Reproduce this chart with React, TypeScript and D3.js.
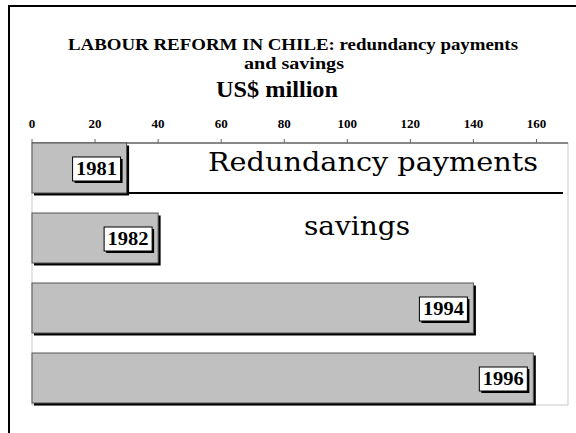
import React from "react";
import * as d3 from "d3";

const years = ["1981", "1982", "1994", "1996"];
const values = [30, 40, 140, 159];
const tickValues = [0, 20, 40, 60, 80, 100, 120, 140, 160];
const titleLines = ["LABOUR REFORM IN CHILE: redundancy payments", "and savings"];
const unitLabel = "US$ million";
const legendTexts = ["Redundancy payments", "savings"];

const W = 576;
const H = 433;

export default function App() {
  const x = d3.scaleLinear().domain([0, 170]).range([32, 568]);
  const y = d3.scaleBand<string>().domain(years).range([143, 403]).paddingInner(0.286).paddingOuter(0);
  const bw = y.bandwidth();
  const serifBold = "'Liberation Serif', 'Times New Roman', serif";
  return (
    <svg width={W} height={H} style={{ position: "absolute", left: 0, top: 0, background: "#fff" }}>
      <rect x={0} y={0} width={W} height={H} fill="#fff" />
      {/* outer frame */}
      <line x1={9} y1={6} x2={W} y2={6} stroke="#000" strokeWidth={2} />
      <line x1={9} y1={5} x2={9} y2={H} stroke="#000" strokeWidth={2} />

      {/* titles */}
      <text x={293} y={50} textAnchor="middle" fontFamily={serifBold} fontWeight="bold" fontSize={17.5} textLength={450} lengthAdjust="spacingAndGlyphs">{titleLines[0]}</text>
      <text x={294} y={69} textAnchor="middle" fontFamily={serifBold} fontWeight="bold" fontSize={17.5} textLength={100} lengthAdjust="spacingAndGlyphs">{titleLines[1]}</text>
      <text x={277} y={97} textAnchor="middle" fontFamily={serifBold} fontWeight="bold" fontSize={23} textLength={122} lengthAdjust="spacingAndGlyphs">{unitLabel}</text>

      {/* plot frame */}
      <line x1={32} y1={143} x2={32} y2={405} stroke="#c8c8c8" strokeWidth={1} />
      <line x1={568} y1={143} x2={568} y2={405} stroke="#c8c8c8" strokeWidth={1} />
      <line x1={32} y1={405} x2={568} y2={405} stroke="#c8c8c8" strokeWidth={1} />

      {/* axis */}
      <line x1={32} y1={143} x2={568} y2={143} stroke="#888" strokeWidth={2} />
      {tickValues.map((t) => (
        <g key={t}>
          <line x1={x(t)} y1={139} x2={x(t)} y2={143} stroke="#666" strokeWidth={1} />
          <text x={x(t)} y={128} textAnchor="middle" fontFamily={serifBold} fontWeight="bold" fontSize={13}>{t}</text>
        </g>
      ))}

      {/* legend box shadow for first row */}
      <line x1={44} y1={193} x2={563} y2={193} stroke="#000" strokeWidth={2} />

      {/* bars */}
      {years.map((yr, i) => {
        const y0 = y(yr) as number;
        const x1 = x(values[i]);
        const bx = x1 - 6 - 48;
        const by = y0 + bw / 2 - 11;
        return (
          <g key={yr}>
            <rect x={x(0) + 2} y={y0 + 2.5} width={x1 - x(0) + 0.5} height={bw} fill="#000" />
            <rect x={x(0)} y={y0} width={x1 - x(0)} height={bw} fill="#c0c0c0" stroke="#555" strokeWidth={1} />
            <rect x={bx + 2} y={by + 2} width={48} height={24} fill="#000" />
            <rect x={bx} y={by} width={48} height={24} fill="#fff" stroke="#000" strokeWidth={1} />
            <text x={bx + 24} y={by + 18} textAnchor="middle" fontFamily={serifBold} fontWeight="bold" fontSize={19} textLength={41} lengthAdjust="spacingAndGlyphs">{yr}</text>
          </g>
        );
      })}

      {/* legend texts */}
      <text x={208} y={171} fontFamily="'DejaVu Serif', serif" fontSize={25.5} textLength={330} lengthAdjust="spacingAndGlyphs">{legendTexts[0]}</text>
      <text x={304} y={235} fontFamily="'DejaVu Serif', serif" fontSize={25.5} textLength={106} lengthAdjust="spacingAndGlyphs">{legendTexts[1]}</text>
    </svg>
  );
}
